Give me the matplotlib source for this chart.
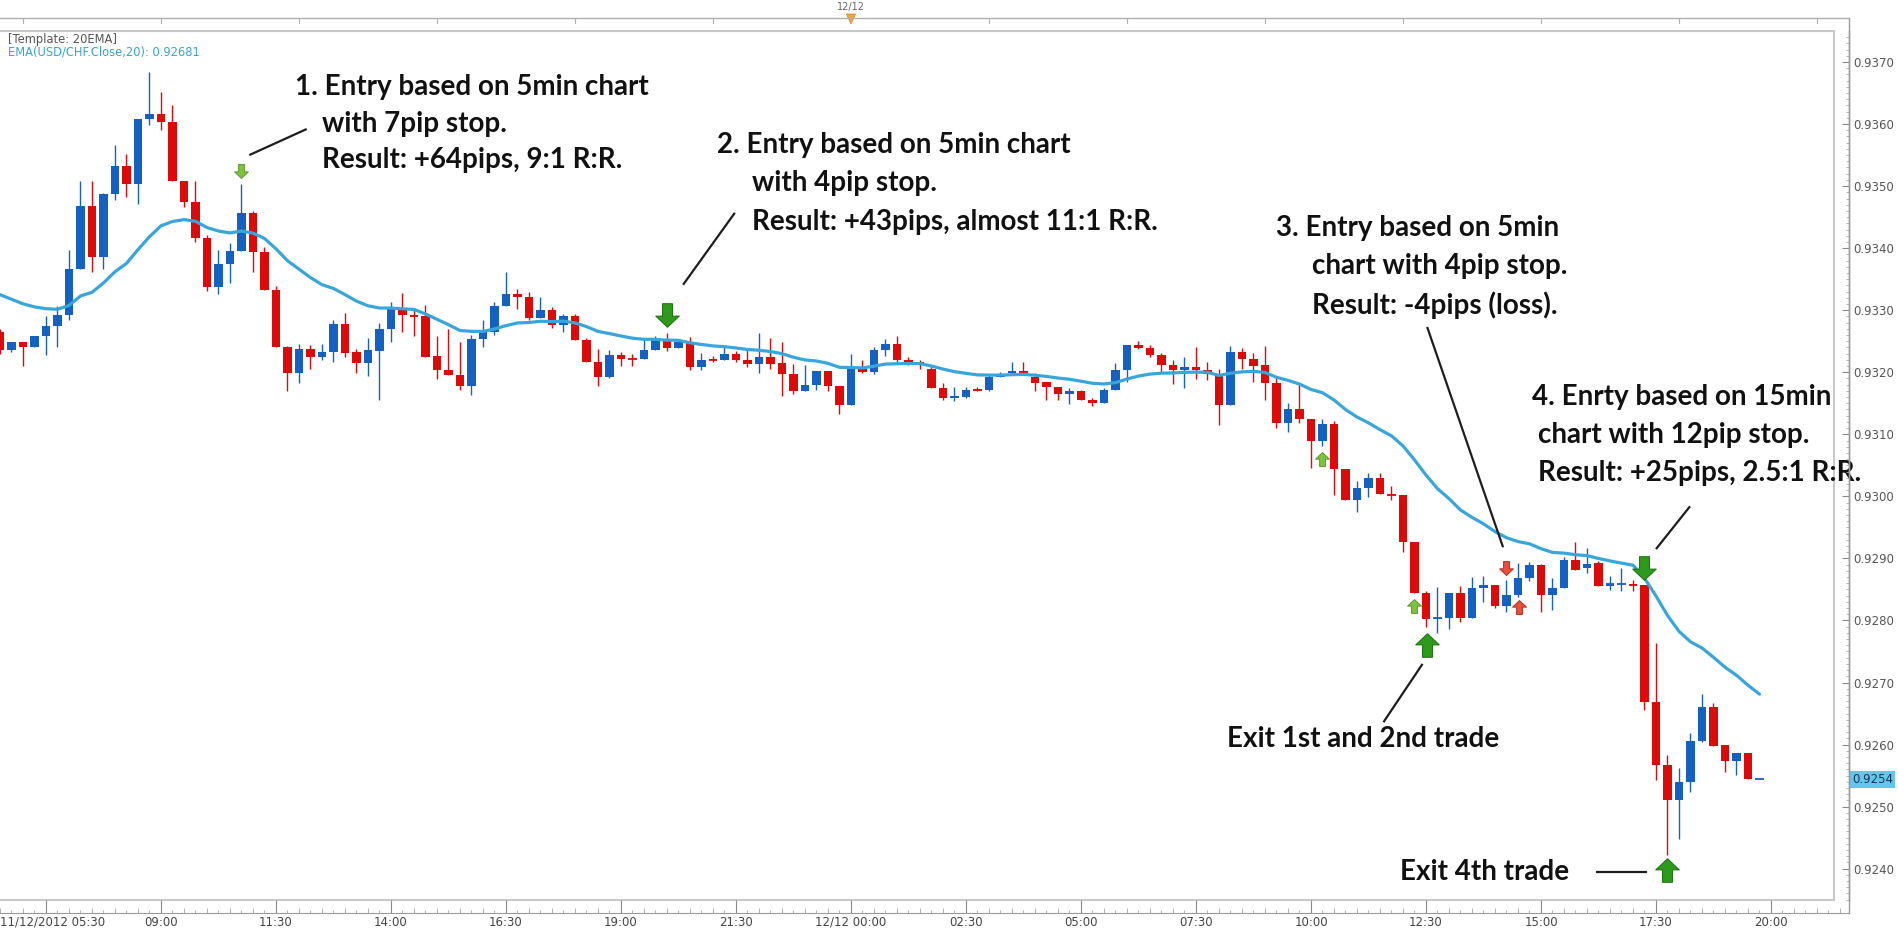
import matplotlib
matplotlib.use("Agg")
import matplotlib.pyplot as plt
import matplotlib.transforms as mtransforms
from matplotlib.path import Path
from matplotlib.lines import Line2D
from matplotlib.patches import Polygon
from matplotlib.ticker import MultipleLocator, FixedLocator
from datetime import datetime, timedelta

# ---------------- data (USD/CHF, 15 min bars) ----------------
start_time = datetime(2012, 12, 11, 5, 30)
bar_minutes = 15

opens = [0.93265, 0.93236, 0.93248, 0.93240, 0.93258, 0.93275, 0.93293, 0.93366, 0.93468, 0.93385,
         0.93488, 0.93533, 0.93504, 0.93608, 0.93616, 0.93603, 0.93509, 0.93475, 0.93417, 0.93338,
         0.93374, 0.93396, 0.93456, 0.93393, 0.93333, 0.93240, 0.93198, 0.93237, 0.93224, 0.93232,
         0.93278, 0.93233, 0.93215, 0.93235, 0.93269, 0.93301, 0.93292, 0.93290, 0.93226, 0.93204,
         0.93195, 0.93178, 0.93253, 0.93265, 0.93307, 0.93326, 0.93321, 0.93287, 0.93301, 0.93276,
         0.93290, 0.93252, 0.93217, 0.93193, 0.93228, 0.93222, 0.93221, 0.93236, 0.93252, 0.93239,
         0.93247, 0.93209, 0.93221, 0.93219, 0.93230, 0.93219, 0.93213, 0.93224, 0.93215, 0.93197,
         0.93169, 0.93179, 0.93202, 0.93178, 0.93147, 0.93206, 0.93200, 0.93236, 0.93246, 0.93219,
         0.93216, 0.93206, 0.93174, 0.93158, 0.93160, 0.93173, 0.93172, 0.93192, 0.93198, 0.93202,
         0.93193, 0.93185, 0.93176, 0.93165, 0.93170, 0.93156, 0.93150, 0.93171, 0.93204, 0.93244,
         0.93239, 0.93228, 0.93212, 0.93203, 0.93208, 0.93204, 0.93194, 0.93147, 0.93233, 0.93221,
         0.93212, 0.93182, 0.93118, 0.93140, 0.93124, 0.93090, 0.93117, 0.93044, 0.92994, 0.93013,
         0.93029, 0.93004, 0.93002, 0.92927, 0.92845, 0.92802, 0.92804, 0.92844, 0.92804, 0.92853,
         0.92857, 0.92823, 0.92841, 0.92868, 0.92889, 0.92841, 0.92853, 0.92897, 0.92884, 0.92892,
         0.92856, 0.92858, 0.92858, 0.92857, 0.92669, 0.92567, 0.92510, 0.92539, 0.92606, 0.92660,
         0.92599, 0.92574, 0.92587, 0.92544]

highs = [0.93270, 0.93249, 0.93248, 0.93259, 0.93291, 0.93306, 0.93397, 0.93509, 0.93509, 0.93489,
         0.93566, 0.93551, 0.93608, 0.93684, 0.93652, 0.93631, 0.93509, 0.93509, 0.93421, 0.93397,
         0.93408, 0.93504, 0.93460, 0.93402, 0.93339, 0.93242, 0.93246, 0.93244, 0.93246, 0.93284,
         0.93295, 0.93237, 0.93256, 0.93280, 0.93314, 0.93328, 0.93301, 0.93308, 0.93258, 0.93270,
         0.93248, 0.93260, 0.93285, 0.93314, 0.93362, 0.93334, 0.93330, 0.93321, 0.93305, 0.93294,
         0.93294, 0.93256, 0.93237, 0.93236, 0.93232, 0.93230, 0.93252, 0.93258, 0.93264, 0.93251,
         0.93257, 0.93231, 0.93226, 0.93244, 0.93235, 0.93236, 0.93263, 0.93255, 0.93248, 0.93214,
         0.93212, 0.93202, 0.93202, 0.93178, 0.93230, 0.93219, 0.93240, 0.93253, 0.93258, 0.93224,
         0.93219, 0.93210, 0.93183, 0.93176, 0.93176, 0.93176, 0.93195, 0.93200, 0.93217, 0.93217,
         0.93198, 0.93185, 0.93177, 0.93174, 0.93171, 0.93158, 0.93174, 0.93215, 0.93244, 0.93251,
         0.93244, 0.93231, 0.93220, 0.93225, 0.93240, 0.93217, 0.93206, 0.93242, 0.93239, 0.93231,
         0.93242, 0.93192, 0.93150, 0.93181, 0.93124, 0.93124, 0.93121, 0.93044, 0.93024, 0.93037,
         0.93038, 0.93016, 0.93002, 0.92927, 0.92848, 0.92854, 0.92844, 0.92855, 0.92870, 0.92871,
         0.92857, 0.92865, 0.92893, 0.92894, 0.92891, 0.92868, 0.92902, 0.92927, 0.92916, 0.92896,
         0.92871, 0.92884, 0.92865, 0.92857, 0.92763, 0.92583, 0.92562, 0.92618, 0.92682, 0.92667,
         0.92599, 0.92587, 0.92587, 0.92544]

lows = [0.93230, 0.93232, 0.93210, 0.93240, 0.93227, 0.93241, 0.93284, 0.93366, 0.93362, 0.93367,
        0.93478, 0.93482, 0.93471, 0.93598, 0.93591, 0.93509, 0.93466, 0.93410, 0.93331, 0.93326,
        0.93344, 0.93396, 0.93362, 0.93333, 0.93240, 0.93170, 0.93182, 0.93206, 0.93220, 0.93217,
        0.93225, 0.93199, 0.93194, 0.93156, 0.93248, 0.93265, 0.93258, 0.93225, 0.93189, 0.93195,
        0.93171, 0.93163, 0.93241, 0.93260, 0.93307, 0.93302, 0.93284, 0.93287, 0.93271, 0.93265,
        0.93252, 0.93217, 0.93178, 0.93190, 0.93210, 0.93210, 0.93221, 0.93236, 0.93235, 0.93239,
        0.93203, 0.93203, 0.93216, 0.93219, 0.93216, 0.93208, 0.93199, 0.93206, 0.93161, 0.93165,
        0.93169, 0.93171, 0.93170, 0.93133, 0.93147, 0.93199, 0.93197, 0.93226, 0.93216, 0.93211,
        0.93205, 0.93174, 0.93156, 0.93153, 0.93159, 0.93170, 0.93170, 0.93192, 0.93197, 0.93197,
        0.93169, 0.93156, 0.93155, 0.93149, 0.93155, 0.93146, 0.93150, 0.93171, 0.93185, 0.93237,
        0.93224, 0.93198, 0.93181, 0.93174, 0.93189, 0.93188, 0.93115, 0.93147, 0.93205, 0.93185,
        0.93156, 0.93110, 0.93104, 0.93118, 0.93045, 0.93081, 0.93002, 0.92994, 0.92974, 0.92999,
        0.93004, 0.92994, 0.92911, 0.92845, 0.92789, 0.92779, 0.92787, 0.92797, 0.92804, 0.92830,
        0.92820, 0.92813, 0.92837, 0.92863, 0.92813, 0.92817, 0.92853, 0.92882, 0.92876, 0.92855,
        0.92849, 0.92847, 0.92848, 0.92655, 0.92543, 0.92422, 0.92447, 0.92524, 0.92604, 0.92597,
        0.92555, 0.92551, 0.92544, 0.92544]

closes = [0.93236, 0.93248, 0.93240, 0.93258, 0.93275, 0.93293, 0.93366, 0.93468, 0.93385, 0.93488,
          0.93533, 0.93504, 0.93608, 0.93616, 0.93603, 0.93509, 0.93475, 0.93417, 0.93338, 0.93374,
          0.93396, 0.93456, 0.93393, 0.93333, 0.93240, 0.93198, 0.93237, 0.93224, 0.93232, 0.93277,
          0.93231, 0.93215, 0.93236, 0.93269, 0.93303, 0.93292, 0.93290, 0.93225, 0.93203, 0.93195,
          0.93178, 0.93253, 0.93265, 0.93307, 0.93326, 0.93321, 0.93287, 0.93301, 0.93276, 0.93290,
          0.93252, 0.93217, 0.93193, 0.93228, 0.93222, 0.93221, 0.93236, 0.93253, 0.93239, 0.93249,
          0.93209, 0.93220, 0.93220, 0.93230, 0.93219, 0.93213, 0.93224, 0.93214, 0.93197, 0.93169,
          0.93179, 0.93202, 0.93178, 0.93147, 0.93206, 0.93200, 0.93236, 0.93246, 0.93219, 0.93217,
          0.93212, 0.93174, 0.93158, 0.93162, 0.93172, 0.93172, 0.93192, 0.93196, 0.93202, 0.93200,
          0.93183, 0.93176, 0.93165, 0.93170, 0.93156, 0.93150, 0.93171, 0.93204, 0.93244, 0.93239,
          0.93228, 0.93212, 0.93203, 0.93208, 0.93204, 0.93197, 0.93147, 0.93233, 0.93221, 0.93210,
          0.93182, 0.93118, 0.93140, 0.93124, 0.93090, 0.93117, 0.93044, 0.92994, 0.93013, 0.93029,
          0.93004, 0.93002, 0.92927, 0.92845, 0.92802, 0.92804, 0.92844, 0.92804, 0.92853, 0.92857,
          0.92823, 0.92841, 0.92868, 0.92889, 0.92841, 0.92853, 0.92897, 0.92882, 0.92891, 0.92856,
          0.92858, 0.92859, 0.92857, 0.92669, 0.92567, 0.92510, 0.92539, 0.92606, 0.92660, 0.92598,
          0.92574, 0.92587, 0.92544, 0.92544]

ema_period = 20
ema_first = 0.93325            # EMA value read at the left edge

price_ticks = [0.9240, 0.9250, 0.9260, 0.9270, 0.9280, 0.9290, 0.9300,
               0.9310, 0.9320, 0.9330, 0.9340, 0.9350, 0.9360, 0.9370]

legend_template = "[Template: 20EMA]"
legend_ema = "EMA(USD/CHF.Close,20): 0.92681"

# annotation texts: (text, bar index, price)
notes = [
    ("1. Entry based on 5min chart", 25.65, 0.93660),
    ("with 7pip stop.", 28.0, 0.93600),
    ("Result: +64pips, 9:1 R:R.", 28.0, 0.93542),
    ("2. Entry based on 5min chart", 62.35, 0.93566),
    ("with 4pip stop.", 65.4, 0.93505),
    ("Result: +43pips, almost 11:1 R:R.", 65.4, 0.93442),
    ("3. Entry based on 5min", 110.96, 0.93432),
    ("chart with 4pip stop.", 114.1, 0.93371),
    ("Result: -4pips (loss).", 114.1, 0.93308),
    ("4. Enrty based on 15min", 133.2, 0.93160),
    ("chart with 12pip stop.", 133.7, 0.93099),
    ("Result: +25pips, 2.5:1 R:R.", 133.7, 0.93038),
    ("Exit 1st and 2nd trade", 106.7, 0.92609),
    ("Exit 4th trade", 121.7, 0.92395),
]

# pointer lines: ((bar, price), (bar, price))
pointers = [
    ((26.67, 0.93592), (21.68, 0.93550)),
    ((63.9, 0.93457), (59.4, 0.93341)),
    ((124.1, 0.93273), (130.7, 0.92918)),
    ((146.96, 0.92984), (144.0, 0.92915)),
    ((120.3, 0.92636), (123.7, 0.92730)),
    ((138.8, 0.92395), (143.2, 0.92395)),
]

# signal arrows: (bar, price, up?, big?, kind)
signals = [
    (21, 0.93524, False, False, "green"),
    (58, 0.93292, False, True, "green"),
    (115, 0.93060, True, False, "green"),
    (123, 0.92823, True, False, "green"),
    (124.1, 0.92760, True, True, "green"),
    (131, 0.92885, False, False, "red"),
    (132.1, 0.92822, True, False, "red"),
    (143, 0.92885, False, True, "green"),
    (145, 0.92398, True, True, "green"),
]

# ---------------- layout ----------------
W, H, DPI = 1899, 934, 100
PX_PER_BAR = 11.5
PX_PER_PRICE = 62050.0
REF_PRICE, REF_PX = 0.9370, 62.0
PLOT_TOP, PLOT_BOT, PLOT_RIGHT = 31, 900, 1834
AXIS_X = 1849
TIME_BOT = 913
MAJOR_EVERY = 10       # bars between labelled time ticks (2.5 h)
MAJOR_OFFSET = 4       # first time tick at 06:30

UP_COL = "#1561c2"
DN_COL = "#dd0a0a"
EMA_COL = "#38a6dc"
AXIS_FS = 8.5


def fx(px):
    return px / W


def fy(py):
    return 1 - py / H


def px2price(py):
    return REF_PRICE - (py - REF_PX) / PX_PER_PRICE


fig = plt.figure(figsize=(W / DPI, H / DPI), dpi=DPI)
fig.patch.set_facecolor("white")

ax = fig.add_axes([0, fy(PLOT_BOT), fx(PLOT_RIGHT), (PLOT_BOT - PLOT_TOP) / H])
ax.set_xlim(0, PLOT_RIGHT / PX_PER_BAR)
ax.set_ylim(px2price(PLOT_BOT), px2price(PLOT_TOP))
ax.set_xticks([])
ax.set_yticks([])
ax.spines["left"].set_visible(False)
for s in ["top", "right", "bottom"]:
    ax.spines[s].set_color("#c9c9c9")
    ax.spines[s].set_linewidth(1.5)

n = len(closes)
idx = list(range(n))

# ---- candles ----
cols = [UP_COL if c >= o else DN_COL for o, c in zip(opens, closes)]
ax.vlines(idx, lows, highs, colors=cols, linewidth=1.0, zorder=2)
bottoms = [min(o, c) for o, c in zip(opens, closes)]
heights = [abs(c - o) for o, c in zip(opens, closes)]
ax.bar(idx, heights, width=0.7, bottom=bottoms, color=cols, linewidth=0, zorder=3)
doji = [i for i in idx if heights[i] < 0.00003]
ax.hlines([closes[i] for i in doji], [i - 0.35 for i in doji], [i + 0.35 for i in doji],
          colors=[cols[i] for i in doji], linewidth=1.3, zorder=3)

# ---- EMA(20) of the closes ----
alpha = 2.0 / (ema_period + 1)
ema = [ema_first]
for c in closes[1:]:
    ema.append(ema[-1] + alpha * (c - ema[-1]))
ax.plot(idx, ema, color=EMA_COL, linewidth=2.3, zorder=4, solid_capstyle="round")

# ---- signal arrows ----
def arrow_path(up):
    v = [(0, 1), (-1, 0.05), (-0.42, 0.05), (-0.42, -1), (0.42, -1), (0.42, 0.05), (1, 0.05), (0, 1)]
    if not up:
        v = [(x, -y) for x, y in v]
    codes = [Path.MOVETO] + [Path.LINETO] * 6 + [Path.CLOSEPOLY]
    return Path(v, codes)

arrow_style = {
    ("green", True): ("#2d9a1c", "#1b6e0f"),
    ("green", False): ("#7fc241", "#5a9a2a"),
    ("red", False): ("#e9503a", "#b0301c"),
    ("red", True): ("#e9503a", "#b0301c"),
}
for b, p, up, big, kind in signals:
    fc, ec = arrow_style[(kind, big)]
    ax.plot([b], [p], marker=arrow_path(up), markersize=17 if big else 10,
            markerfacecolor=fc, markeredgecolor=ec, markeredgewidth=0.7,
            linestyle="none", zorder=6, clip_on=False)

# ---- annotations ----
for (x0, p0), (x1, p1) in pointers:
    ax.plot([x0, x1], [p0, p1], color="#1e1e1e", linewidth=1.6, zorder=5,
            solid_capstyle="butt", clip_on=False)
for txt, b, p in notes:
    ax.text(b, p, txt, fontfamily="Lato", fontweight="bold", fontsize=20,
            color="#111111", ha="left", va="center", zorder=7, clip_on=False)

# ---- price axis on the right ----
ay = ax.twinx()
ay.set_ylim(ax.get_ylim())
for s in ["left", "top", "bottom"]:
    ay.spines[s].set_visible(False)
ay.spines["right"].set_position(("outward", (AXIS_X - PLOT_RIGHT) * 72 / DPI))
ay.spines["right"].set_color("#9a9a9a")
ay.spines["right"].set_linewidth(1.0)
ay.yaxis.set_major_locator(FixedLocator(price_ticks))
ay.set_yticklabels([f"{t:.4f}" for t in price_ticks])
ay.yaxis.set_minor_locator(MultipleLocator(0.0001))
ay.tick_params(axis="y", which="major", direction="in", length=5, width=0.8,
               color="#8a8a8a", labelsize=AXIS_FS, labelcolor="#555555", pad=3)
ay.tick_params(axis="y", which="minor", direction="in", length=2.2, width=0.6, color="#aaaaaa")

fig.add_artist(Line2D([fx(AXIS_X), fx(AXIS_X)], [fy(18), fy(TIME_BOT)], color="#9a9a9a", linewidth=1.0))

# last price label
tr = mtransforms.blended_transform_factory(fig.transFigure, ax.transData)
ax.text(fx(AXIS_X + 3), closes[-1], f"{closes[-1]:.4f}", transform=tr, fontsize=AXIS_FS,
        color="#1b3550", ha="left", va="center", zorder=10, clip_on=False,
        bbox=dict(boxstyle="square,pad=0.15", fc="#62c6ee", ec="none"))

# ---- time axis (bottom band) ----
at = fig.add_axes([0, fy(TIME_BOT), fx(AXIS_X), (TIME_BOT - PLOT_BOT) / H])
at.set_xlim(0, AXIS_X / PX_PER_BAR)
at.set_ylim(0, 1)
at.set_yticks([])
at.patch.set_alpha(0)
for s in ["left", "right", "top"]:
    at.spines[s].set_visible(False)
at.spines["bottom"].set_color("#9a9a9a")
n_axis = int(AXIS_X / PX_PER_BAR) + 1
times = [start_time + timedelta(minutes=bar_minutes * i) for i in range(n_axis)]
major = [i for i in range(n_axis) if i >= MAJOR_OFFSET and (i - MAJOR_OFFSET) % MAJOR_EVERY == 0]
labels = []
for i in major:
    t = times[i]
    if i == MAJOR_OFFSET:
        labels.append("")          # hidden behind the start-date label
    elif t.hour == 0 and t.minute == 0:
        labels.append(t.strftime("%d/%m %H:%M"))
    else:
        labels.append(t.strftime("%H:%M"))
at.set_xticks(major)
at.set_xticklabels(labels)
at.set_xticks(range(n_axis), minor=True)
at.tick_params(axis="x", which="major", direction="in", length=(TIME_BOT - PLOT_BOT) * 0.72,
               width=0.8, color="#8a8a8a", labelsize=AXIS_FS, labelcolor="#444444", pad=2)
at.tick_params(axis="x", which="minor", direction="in", length=2.2, width=0.6, color="#aaaaaa")
half = [i for i, t in enumerate(times) if t.minute in (0, 30) and i not in major]
at.vlines(half, 0, 0.4, colors="#aaaaaa", linewidth=0.6)
label_y = mtransforms.offset_copy(at.transData, fig=fig, x=0, y=-2, units="points")
at.text(0, 0, start_time.strftime("%d/%m/%Y %H:%M"), transform=label_y,
        fontsize=AXIS_FS, color="#444444", ha="left", va="top")

# ---- top band ----
fig.add_artist(Line2D([0, fx(AXIS_X)], [fy(18), fy(18)], color="#b0b0b0", linewidth=1.0))
trt = mtransforms.blended_transform_factory(ax.transData, fig.transFigure)
three_h = [i for i, t in enumerate(times) if t.minute == 0 and t.hour % 3 == 0 and i * PX_PER_BAR < PLOT_RIGHT]
for i in three_h:
    ax.add_artist(Line2D([i, i], [fy(18), fy(23)], transform=trt, color="#b0b0b0",
                         linewidth=0.8, clip_on=False))
day_idx = [i for i, t in enumerate(times) if t.hour == 0 and t.minute == 0][0]
ax.text(day_idx, fy(7), times[day_idx].strftime("%d/%m"), transform=trt, fontsize=7,
        color="#666666", ha="center", va="center", clip_on=False)
tri = Polygon([[day_idx - 0.4, fy(14)], [day_idx + 0.4, fy(14)], [day_idx, fy(24)]],
              closed=True, transform=trt, facecolor="#f2a33a", edgecolor="#d08020",
              linewidth=0.5, clip_on=False)
ax.add_artist(tri)

# ---- header texts ----
fig.text(fx(8), fy(39), legend_template, fontsize=8.3, color="#555555", ha="left", va="center")
fig.text(fx(8), fy(52), legend_ema, fontsize=8.3, color="#3aa2d2", ha="left", va="center")

fig.savefig("out.png", dpi=DPI, facecolor="white")
